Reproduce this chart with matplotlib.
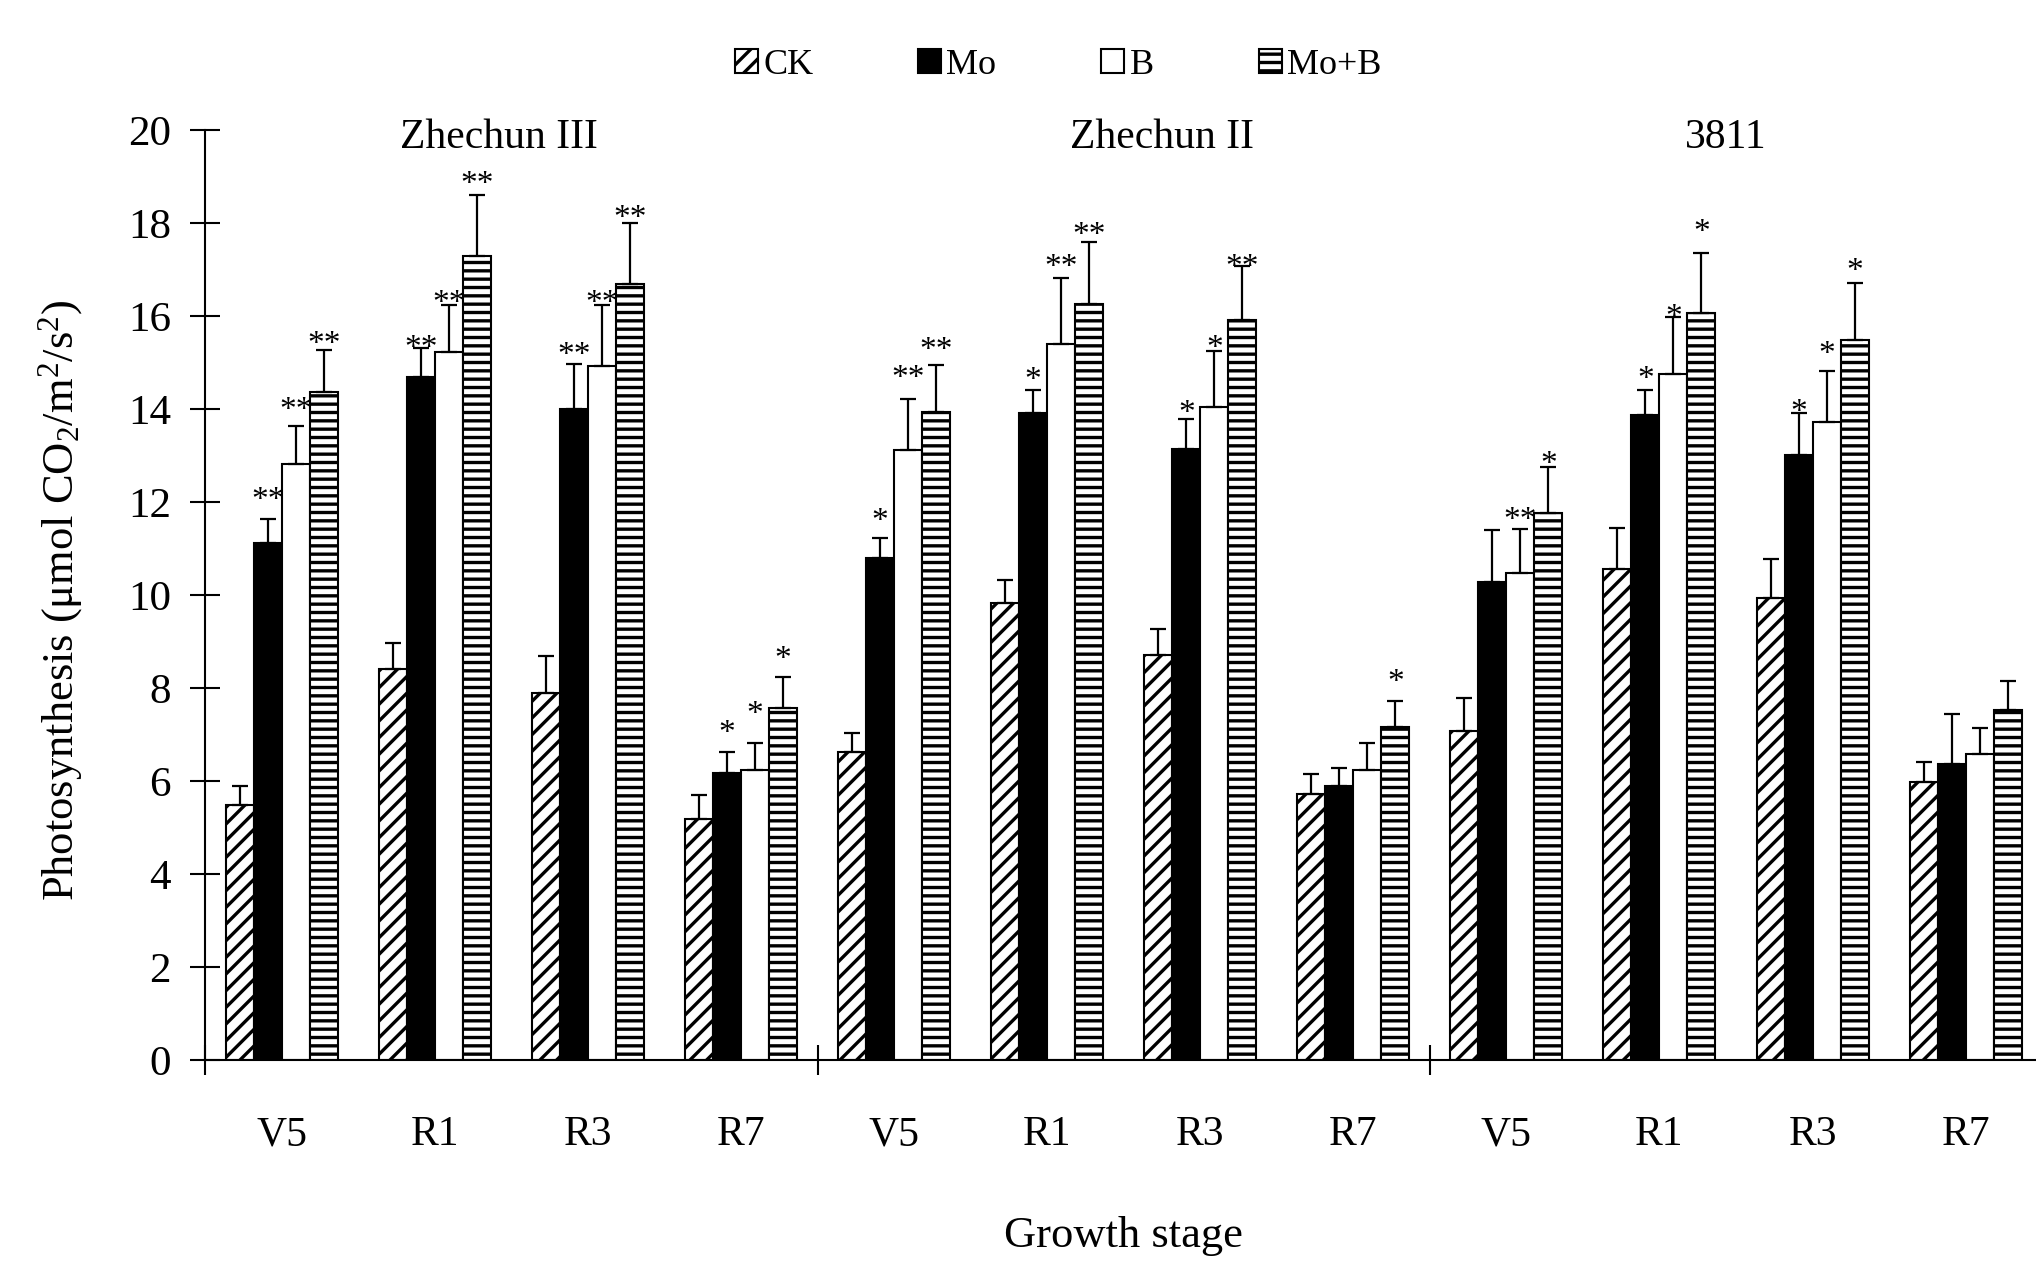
import numpy as np
import matplotlib
matplotlib.use("Agg")
import matplotlib.pyplot as plt
from matplotlib.transforms import offset_copy

plt.rcParams['font.family'] = ['Liberation Serif', 'DejaVu Serif']
plt.rcParams['mathtext.fontset'] = 'custom'
plt.rcParams['mathtext.rm'] = 'Liberation Serif'
plt.rcParams['mathtext.it'] = 'Liberation Serif:italic'
plt.rcParams['hatch.linewidth'] = 2.4

# ---------------- data ----------------
cultivars = ['Zhechun III', 'Zhechun II', '3811']
stages = ['V5', 'R1', 'R3', 'R7']
treatments = ['CK', 'Mo', 'B', 'Mo+B']

ck_mean = [5.49, 8.40, 7.90, 5.19, 6.63, 9.82, 8.71, 5.73, 7.08, 10.56, 9.93, 5.97]
ck_sd   = [0.41, 0.57, 0.79, 0.50, 0.41, 0.50, 0.55, 0.42, 0.70, 0.88, 0.85, 0.45]
mo_mean = [11.12, 14.69, 14.01, 6.17, 10.80, 13.91, 13.14, 5.90, 10.29, 13.88, 13.02, 6.36]
mo_sd   = [0.51, 0.62, 0.95, 0.46, 0.43, 0.51, 0.64, 0.39, 1.11, 0.54, 0.89, 1.08]
b_mean  = [12.81, 15.22, 14.92, 6.24, 13.13, 15.39, 14.05, 6.24, 10.47, 14.75, 13.72, 6.58]
b_sd    = [0.83, 1.02, 1.32, 0.57, 1.09, 1.42, 1.20, 0.57, 0.94, 1.22, 1.09, 0.57]
mob_mean = [14.36, 17.30, 16.68, 7.56, 13.93, 16.25, 15.92, 7.17, 11.77, 16.07, 15.49, 7.52]
mob_sd   = [0.90, 1.30, 1.32, 0.68, 1.02, 1.34, 1.16, 0.55, 0.98, 1.29, 1.22, 0.63]

ck_sig = [''] * 12
mo_sig = ['**', '**', '**', '*', '*', '*', '*', '', '', '*', '*', '']
b_sig = ['**', '**', '**', '*', '**', '**', '*', '', '**', '*', '*', '']
mob_sig = ['**', '**', '**', '*', '**', '**', '**', '*', '*', '*', '*', '']
# heights (data units) at which the significance marks sit
ck_sig_y = [np.nan] * 12
mo_sig_y = [12.18, 15.45, 15.31, 7.17, 11.73, 14.77, 14.06, np.nan, np.nan, 14.79, 14.07, np.nan]
b_sig_y = [14.11, 16.42, 16.43, 7.58, 14.81, 17.20, 15.45, np.nan, 11.75, 16.13, 15.32, np.nan]
mob_sig_y = [15.55, 18.99, 18.25, 8.76, 15.41, 17.88, 17.20, 8.26, 12.96, 17.94, 17.12, np.nan]

title_x = [1.42, 5.75, 9.43]
title_y = 19.91

# ---------------- figure ----------------
W, H = 2036, 1261
fig = plt.figure(figsize=(W / 100, H / 100), dpi=100)
ax_left = 205.4 / W
ax_bottom = 1 - 1060 / H
ax_top = 1 - 130.1 / H
ax = fig.add_axes([ax_left, ax_bottom, 1 - ax_left, ax_top - ax_bottom])

labels_x = [s for _ in cultivars for s in stages]
x = np.arange(len(labels_x))
w = 0.183

means = [ck_mean, mo_mean, b_mean, mob_mean]
sds = [ck_sd, mo_sd, b_sd, mob_sd]
sigs = [ck_sig, mo_sig, b_sig, mob_sig]
sig_ys = [ck_sig_y, mo_sig_y, b_sig_y, mob_sig_y]
faces = ['white', 'black', 'white', 'white']
hatches = ['//', None, None, '--']

star_tr = offset_copy(ax.transData, fig=fig, x=0, y=-0.465 * 24, units='points')

for i, (m, s, sg, sy, fc, ht, lab) in enumerate(zip(means, sds, sigs, sig_ys, faces, hatches, treatments)):
    pos = x + (i - 1.5) * w
    ax.bar(pos, m, width=w, color=fc, edgecolor='black', linewidth=1.5,
           hatch=ht, label=lab, zorder=2)
    ax.errorbar(pos, m, yerr=[np.zeros(len(m)), s], fmt='none', ecolor='black',
                elinewidth=1.6, capsize=5.5, capthick=1.6, zorder=3)
    for px, txt, yy in zip(pos, sg, sy):
        if txt:
            ax.text(px, yy, txt, transform=star_tr, ha='center', va='baseline',
                    fontsize=24, zorder=4)

ax.set_ylim(0, 20)
ax.set_xlim(-0.5, 11.46)
ax.set_yticks(np.arange(0, 21, 2))
ax.tick_params(axis='y', direction='inout', length=21.6, width=1.5,
               labelsize=31, pad=14)
ax.set_xticks(x)
ax.set_xticklabels(labels_x)
ax.tick_params(axis='x', which='major', length=0, labelsize=30, pad=40)
ax.set_xticks([-0.5, 3.5, 7.5], minor=True)
ax.tick_params(axis='x', which='minor', direction='inout', length=21.6, width=1.5)

for sp in ['top', 'right']:
    ax.spines[sp].set_visible(False)
ax.spines['left'].set_linewidth(1.5)
ax.spines['bottom'].set_linewidth(1.5)

title_tr = offset_copy(ax.transData, fig=fig, x=0, y=-0.33 * 30, units='points')
for tx, name in zip(title_x, cultivars):
    ax.text(tx, title_y, name, transform=title_tr, ha='center', va='baseline',
            fontsize=30)

fig.text(61 / W, 1 - 600 / H, r'Photosynthesis ($\mathregular{\mu}$mol CO$_2$/m$^2$/s$^2$)',
         rotation=90, ha='center', va='center', fontsize=32)
fig.text(1123 / W, 1 - 1247 / H, 'Growth stage', ha='center', va='baseline',
         fontsize=32)

fig.legend(loc='center', bbox_to_anchor=(1058 / W, 1 - 65 / H), ncol=4,
           frameon=False, fontsize=26, handlelength=0.64, handleheight=0.64,
           handletextpad=0.15, columnspacing=2.9, borderaxespad=0)

fig.savefig('out.png', dpi=100)
